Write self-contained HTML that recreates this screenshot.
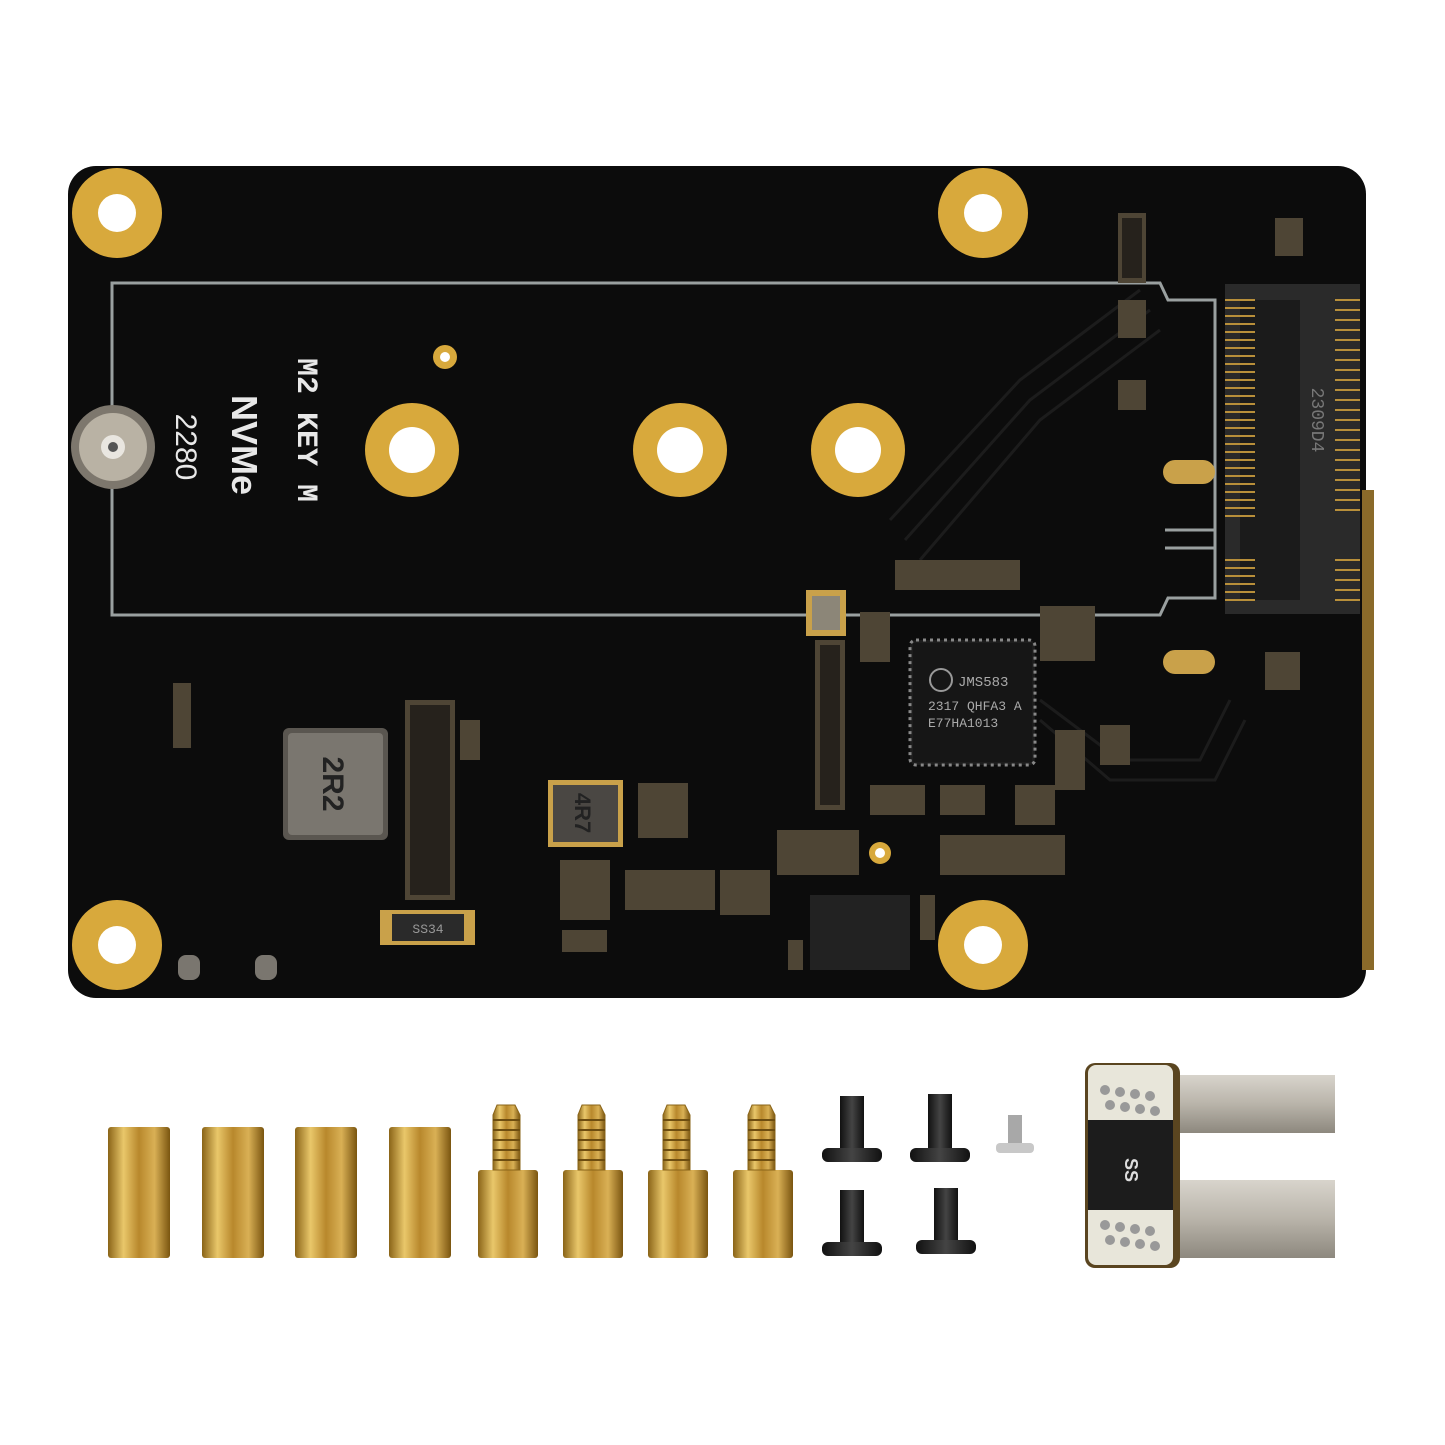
<!DOCTYPE html>
<html><head><meta charset="utf-8"><style>
html,body{margin:0;padding:0;background:#fff;}
svg{display:block}
text{font-family:"Liberation Mono","DejaVu Sans Mono",monospace;}
</style></head><body>
<svg width="1445" height="1445" viewBox="0 0 1445 1445" xmlns="http://www.w3.org/2000/svg">
<defs>
<linearGradient id="brass" x1="0" x2="1" y1="0" y2="0">
<stop offset="0" stop-color="#8a6418"/><stop offset="0.25" stop-color="#e9c76a"/><stop offset="0.5" stop-color="#b8882c"/><stop offset="0.75" stop-color="#d9b055"/><stop offset="1" stop-color="#7a5510"/></linearGradient>
<linearGradient id="metal" x1="0" x2="0" y1="0" y2="1">
<stop offset="0" stop-color="#d8d4cc"/><stop offset="0.5" stop-color="#b9b4aa"/><stop offset="1" stop-color="#8d887e"/></linearGradient>
<linearGradient id="blk" x1="0" x2="1"><stop offset="0" stop-color="#111"/><stop offset="0.5" stop-color="#444"/><stop offset="1" stop-color="#111"/></linearGradient>
</defs>
<rect width="1445" height="1445" fill="#fff"/>
<rect x="68" y="166" width="1298" height="832" rx="28" fill="#0c0c0c"/>
<rect x="1362" y="490" width="12" height="480" fill="#8a6a2a"/>
<path d="M112 283 H1160 L1168 300 H1215 V598 H1168 L1160 615 H112 Z" fill="none" stroke="#9aa0a0" stroke-width="3"/>
<g stroke="#1c1c1c" stroke-width="3" fill="none">
<path d="M890 520 L1020 380 L1140 290"/><path d="M905 540 L1030 400 L1150 310"/><path d="M920 560 L1040 420 L1160 330"/>
<path d="M1040 700 L1120 760 L1200 760 L1230 700"/><path d="M1040 720 L1110 780 L1215 780 L1245 720"/>
</g>
<g fill="#d8a93c"><circle cx="117" cy="213" r="45"/><circle cx="983" cy="213" r="45"/><circle cx="117" cy="945" r="45"/><circle cx="983" cy="945" r="45"/>
<circle cx="412" cy="450" r="47"/><circle cx="680" cy="450" r="47"/><circle cx="858" cy="450" r="47"/><circle cx="445" cy="357" r="12"/><circle cx="880" cy="853" r="11"/></g>
<g fill="#fff"><circle cx="117" cy="213" r="19"/><circle cx="983" cy="213" r="19"/><circle cx="117" cy="945" r="19"/><circle cx="983" cy="945" r="19"/>
<circle cx="412" cy="450" r="23"/><circle cx="680" cy="450" r="23"/><circle cx="858" cy="450" r="23"/><circle cx="445" cy="357" r="5"/><circle cx="880" cy="853" r="5"/></g>
<circle cx="113" cy="447" r="42" fill="#7d776d"/><circle cx="113" cy="447" r="34" fill="#b9b2a4"/><circle cx="113" cy="447" r="12" fill="#e9e6e0"/><circle cx="113" cy="447" r="5" fill="#555"/>
<g fill="#e8e8e8" font-weight="bold">
<text transform="translate(298,430) rotate(90)" text-anchor="middle" font-size="30" style="font-family:'Liberation Mono',monospace">M2 KEY M</text>
<text transform="translate(232,445) rotate(90)" text-anchor="middle" font-size="36" style="font-family:'Liberation Sans',sans-serif">NVMe</text>
<text transform="translate(176,447) rotate(90)" text-anchor="middle" font-size="30" font-weight="normal" style="font-family:'Liberation Sans',sans-serif">2280</text>
</g>
<rect x="1225" y="284" width="135" height="330" fill="#2a2a2a"/>
<rect x="1240" y="300" width="60" height="300" fill="#1b1b1b"/>
<g stroke="#b88f3a" stroke-width="2">
<path d="M1225 300 H1255 M1225 308 H1255 M1225 316 H1255 M1225 324 H1255 M1225 332 H1255 M1225 340 H1255 M1225 348 H1255 M1225 356 H1255 M1225 364 H1255 M1225 372 H1255 M1225 380 H1255 M1225 388 H1255 M1225 396 H1255 M1225 404 H1255 M1225 412 H1255 M1225 420 H1255 M1225 428 H1255 M1225 436 H1255 M1225 444 H1255 M1225 452 H1255 M1225 460 H1255 M1225 468 H1255 M1225 476 H1255 M1225 484 H1255 M1225 492 H1255 M1225 500 H1255 M1225 508 H1255 M1225 516 H1255 M1225 560 H1255 M1225 568 H1255 M1225 576 H1255 M1225 584 H1255 M1225 592 H1255 M1225 600 H1255"/>
<path d="M1335 300 H1360 M1335 310 H1360 M1335 320 H1360 M1335 330 H1360 M1335 340 H1360 M1335 350 H1360 M1335 360 H1360 M1335 370 H1360 M1335 380 H1360 M1335 390 H1360 M1335 400 H1360 M1335 410 H1360 M1335 420 H1360 M1335 430 H1360 M1335 440 H1360 M1335 450 H1360 M1335 460 H1360 M1335 470 H1360 M1335 480 H1360 M1335 490 H1360 M1335 500 H1360 M1335 510 H1360 M1335 560 H1360 M1335 570 H1360 M1335 580 H1360 M1335 590 H1360 M1335 600 H1360"/></g>
<text transform="translate(1312,420) rotate(90)" text-anchor="middle" font-size="18" fill="#777">2309D4</text>
<rect x="1163" y="460" width="52" height="24" rx="12" fill="#c9a14a"/><rect x="1163" y="650" width="52" height="24" rx="12" fill="#c9a14a"/>
<path d="M1165 530 H1215 V548 H1165" fill="none" stroke="#9aa0a0" stroke-width="3"/>
<rect x="910" y="640" width="125" height="125" rx="6" fill="#1d1d1d" stroke="#888" stroke-width="3" stroke-dasharray="3 4"/>
<rect x="913" y="643" width="119" height="119" fill="#161616"/>
<circle cx="941" cy="680" r="11" fill="none" stroke="#999" stroke-width="2"/>
<g fill="#aaa" font-size="13"><text x="958" y="686" font-size="14">JMS583</text><text x="928" y="710">2317 QHFA3 A</text><text x="928" y="727">E77HA1013</text></g>
<rect x="283" y="728" width="105" height="112" rx="6" fill="#5a5650"/><rect x="288" y="733" width="95" height="102" rx="4" fill="#7a766f"/>
<text transform="translate(323,784) rotate(90)" text-anchor="middle" font-size="30" font-weight="bold" fill="#222" style="font-family:'Liberation Sans',sans-serif">2R2</text>
<rect x="548" y="780" width="75" height="67" fill="#c9a14a"/><rect x="553" y="785" width="65" height="57" fill="#4a4743"/>
<text transform="translate(575,813) rotate(90)" text-anchor="middle" font-size="22" font-weight="bold" fill="#222" style="font-family:'Liberation Sans',sans-serif">4R7</text>
<rect x="806" y="590" width="40" height="46" fill="#c9a14a"/><rect x="812" y="596" width="28" height="34" fill="#8c8678"/>
<g fill="#4e4535">
<rect x="1118" y="213" width="28" height="70"/><rect x="1118" y="300" width="28" height="38"/><rect x="1118" y="380" width="28" height="30"/>
<rect x="1275" y="218" width="28" height="38"/><rect x="1265" y="652" width="35" height="38"/>
<rect x="895" y="560" width="125" height="30"/>
<rect x="1040" y="606" width="55" height="55"/><rect x="860" y="612" width="30" height="50"/>
<rect x="815" y="640" width="30" height="170"/>
<rect x="1055" y="730" width="30" height="60"/><rect x="1100" y="725" width="30" height="40"/>
<rect x="870" y="785" width="55" height="30"/><rect x="940" y="785" width="45" height="30"/><rect x="1015" y="785" width="40" height="40"/>
<rect x="777" y="830" width="82" height="45"/><rect x="940" y="835" width="125" height="40"/>
<rect x="405" y="700" width="50" height="200"/><rect x="460" y="720" width="20" height="40"/>
<rect x="625" y="870" width="90" height="40"/><rect x="560" y="860" width="50" height="60"/><rect x="720" y="870" width="50" height="45"/>
<rect x="638" y="783" width="50" height="55"/><rect x="562" y="930" width="45" height="22"/>
<rect x="788" y="940" width="15" height="30"/><rect x="920" y="895" width="15" height="45"/>
<rect x="173" y="683" width="18" height="65"/>
</g>
<g fill="#0c0c0c" opacity=".6"><rect x="1122" y="218" width="20" height="60"/><rect x="410" y="705" width="40" height="190"/><rect x="820" y="645" width="20" height="160"/></g>
<rect x="380" y="910" width="95" height="35" fill="#c9a14a"/><rect x="392" y="914" width="72" height="27" fill="#2a2a2a"/>
<text x="428" y="933" font-size="13" fill="#999" text-anchor="middle">SS34</text>
<rect x="810" y="895" width="100" height="75" fill="#222"/>
<rect x="178" y="955" width="22" height="25" rx="8" fill="#7a766f"/><rect x="255" y="955" width="22" height="25" rx="8" fill="#7a766f"/>
<g fill="url(#brass)">
<rect x="108" y="1127" width="62" height="131" rx="3"/><rect x="202" y="1127" width="62" height="131" rx="3"/><rect x="295" y="1127" width="62" height="131" rx="3"/><rect x="389" y="1127" width="62" height="131" rx="3"/>
<rect x="478" y="1170" width="60" height="88" rx="3"/><rect x="563" y="1170" width="60" height="88" rx="3"/><rect x="648" y="1170" width="60" height="88" rx="3"/><rect x="733" y="1170" width="60" height="88" rx="3"/>
</g>
<g fill="url(#brass)" stroke="#8a6418" stroke-width="1">
<path d="M493 1170 V1115 L497 1105 H515 L520 1115 V1170 Z"/><path d="M578 1170 V1115 L582 1105 H600 L605 1115 V1170 Z"/><path d="M663 1170 V1115 L667 1105 H685 L690 1115 V1170 Z"/><path d="M748 1170 V1115 L752 1105 H770 L775 1115 V1170 Z"/>
</g>
<g stroke="#6d4d10" stroke-width="2"><path d="M493 1120 H520 M493 1130 H520 M493 1140 H520 M493 1150 H520 M493 1160 H520 M578 1120 H605 M578 1130 H605 M578 1140 H605 M578 1150 H605 M578 1160 H605 M663 1120 H690 M663 1130 H690 M663 1140 H690 M663 1150 H690 M663 1160 H690 M748 1120 H775 M748 1130 H775 M748 1140 H775 M748 1150 H775 M748 1160 H775"/></g>
<g fill="url(#blk)">
<path d="M840 1096 H864 V1148 H840 Z"/><rect x="822" y="1148" width="60" height="14" rx="6"/>
<path d="M928 1094 H952 V1148 H928 Z"/><rect x="910" y="1148" width="60" height="14" rx="6"/>
<path d="M840 1190 H864 V1242 H840 Z"/><rect x="822" y="1242" width="60" height="14" rx="6"/>
<path d="M934 1188 H958 V1240 H934 Z"/><rect x="916" y="1240" width="60" height="14" rx="6"/>
</g>
<rect x="1008" y="1115" width="14" height="28" fill="#a8a8a8"/><rect x="996" y="1143" width="38" height="10" rx="4" fill="#c8c8c8"/>
<rect x="1175" y="1075" width="160" height="58" fill="url(#metal)"/>
<rect x="1178" y="1180" width="157" height="78" fill="url(#metal)"/>
<rect x="1085" y="1063" width="95" height="205" rx="10" fill="#5a4520"/>
<rect x="1088" y="1065" width="85" height="200" rx="8" fill="#e8e6da"/>
<rect x="1088" y="1120" width="85" height="90" fill="#1c1c1c"/>
<text transform="translate(1125,1170) rotate(90)" text-anchor="middle" font-size="18" font-weight="bold" fill="#ddd" style="font-family:'Liberation Sans',sans-serif">SS</text>
<g fill="#999"><circle cx="1105" cy="1090" r="5"/><circle cx="1120" cy="1092" r="5"/><circle cx="1135" cy="1094" r="5"/><circle cx="1150" cy="1096" r="5"/><circle cx="1110" cy="1105" r="5"/><circle cx="1125" cy="1107" r="5"/><circle cx="1140" cy="1109" r="5"/><circle cx="1155" cy="1111" r="5"/>
<circle cx="1105" cy="1225" r="5"/><circle cx="1120" cy="1227" r="5"/><circle cx="1135" cy="1229" r="5"/><circle cx="1150" cy="1231" r="5"/><circle cx="1110" cy="1240" r="5"/><circle cx="1125" cy="1242" r="5"/><circle cx="1140" cy="1244" r="5"/><circle cx="1155" cy="1246" r="5"/></g>
</svg>
</body></html>
